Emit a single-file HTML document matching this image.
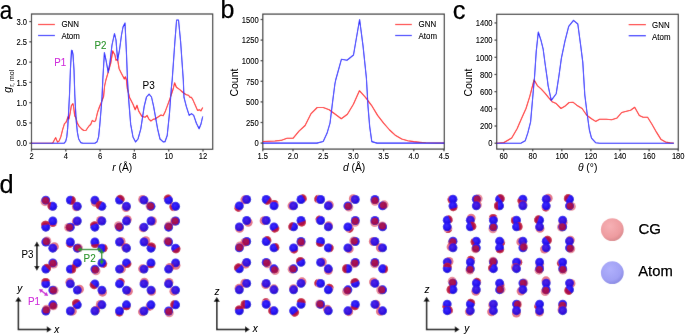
<!DOCTYPE html>
<html><head><meta charset="utf-8"><style>
html,body{margin:0;padding:0;background:#fff;}
svg{display:block;will-change:transform;} #w{width:685px;height:334px;overflow:hidden;}
text{font-family:"Liberation Sans", sans-serif;}
</style></head><body><div id="w">
<svg width="685" height="334" viewBox="0 0 685 334" font-family='"Liberation Sans", sans-serif'>
<defs><filter id="bl" x="0" y="0" width="685" height="334" filterUnits="userSpaceOnUse"><feConvolveMatrix order="3" kernelMatrix="0.01 0.05 0.01 0.05 0.76 0.05 0.01 0.05 0.01" edgeMode="duplicate" preserveAlpha="true"/></filter></defs>
<g filter="url(#bl)"><rect width="685" height="334" fill="#fff"/>
<rect x="31.5" y="14.0" width="181.2" height="135.3" fill="none" stroke="#333" stroke-width="1.2"/>
<line x1="31.5" y1="149.3" x2="31.5" y2="151.5" stroke="#333" stroke-width="1.2"/>

<line x1="65.8" y1="149.3" x2="65.8" y2="151.5" stroke="#333" stroke-width="1.2"/>

<line x1="100.1" y1="149.3" x2="100.1" y2="151.5" stroke="#333" stroke-width="1.2"/>

<line x1="134.39999999999998" y1="149.3" x2="134.39999999999998" y2="151.5" stroke="#333" stroke-width="1.2"/>

<line x1="168.7" y1="149.3" x2="168.7" y2="151.5" stroke="#333" stroke-width="1.2"/>

<line x1="203.0" y1="149.3" x2="203.0" y2="151.5" stroke="#333" stroke-width="1.2"/>

<line x1="29.3" y1="143.2" x2="31.5" y2="143.2" stroke="#333" stroke-width="1.2"/>

<line x1="29.3" y1="122.92499999999998" x2="31.5" y2="122.92499999999998" stroke="#333" stroke-width="1.2"/>

<line x1="29.3" y1="102.64999999999999" x2="31.5" y2="102.64999999999999" stroke="#333" stroke-width="1.2"/>

<line x1="29.3" y1="82.375" x2="31.5" y2="82.375" stroke="#333" stroke-width="1.2"/>

<line x1="29.3" y1="62.099999999999994" x2="31.5" y2="62.099999999999994" stroke="#333" stroke-width="1.2"/>

<line x1="29.3" y1="41.82499999999999" x2="31.5" y2="41.82499999999999" stroke="#333" stroke-width="1.2"/>

<line x1="29.3" y1="21.549999999999997" x2="31.5" y2="21.549999999999997" stroke="#333" stroke-width="1.2"/>

<polyline points="31.5,143.2 52.0,143.2 53.0,142.6 55.7,137.6 57.5,142.1 59.0,141.1 60.8,136.9 62.7,129.4 64.5,123.7 65.7,122.7 66.8,120.4 68.0,116.7 69.0,118.9 70.2,113.0 71.4,105.5 72.9,103.7 73.6,107.0 74.7,115.9 75.7,117.4 77.2,122.7 79.2,126.4 81.4,128.7 83.7,130.5 85.9,130.5 87.4,128.2 89.2,125.7 90.7,124.5 92.3,120.4 94.1,121.6 95.6,120.7 97.6,112.2 99.4,107.0 101.6,101.7 103.6,96.5 104.6,86.0 105.9,80.0 108.6,70.8 110.7,63.4 112.8,50.9 114.9,55.0 116.0,60.3 117.6,59.3 119.1,68.7 121.2,72.9 123.3,77.0 124.3,79.0 125.4,76.7 126.4,80.0 127.3,88.5 129.6,97.4 133.0,104.2 135.2,109.8 137.0,105.3 138.6,110.9 141.9,116.5 145.3,117.2 147.1,115.4 148.7,118.8 150.9,121.0 153.1,119.4 155.4,118.8 158.8,116.5 161.0,115.0 163.2,115.8 165.5,110.9 168.8,101.9 171.1,95.2 173.3,88.5 174.6,82.8 176.4,87.3 179.8,89.6 182.9,92.5 186.3,94.7 188.5,95.2 190.1,97.4 191.5,97.4 193.0,100.1 195.3,105.3 197.5,110.4 199.8,109.8 200.9,110.9 202.7,107.5" fill="none" stroke="#ff0808" stroke-width="1.1" stroke-linejoin="round"/>
<polyline points="31.5,143.2 64.2,143.2 65.7,141.4 66.8,136.9 67.7,127.9 68.4,115.9 69.1,102.5 69.5,95.0 70.4,70.0 71.5,50.2 72.2,50.5 73.0,54.3 74.0,70.0 74.8,95.0 75.4,107.0 76.3,121.9 77.4,132.4 78.7,139.1 80.7,142.6 82.9,143.2 94.9,143.2 97.1,141.7 98.6,136.9 99.8,124.9 100.9,111.5 101.9,99.5 102.8,80.0 104.4,52.5 106.0,60.0 108.2,72.5 110.0,62.0 112.0,45.0 114.5,33.5 116.0,40.0 117.6,60.3 119.5,50.0 121.5,35.0 123.0,27.0 125.0,23.0 126.4,51.9 127.5,80.0 128.5,97.4 130.7,124.4 133.0,137.0 135.6,141.9 138.0,139.0 140.8,128.8 144.2,106.4 146.5,97.0 149.1,94.1 151.5,97.0 153.6,106.4 157.6,128.8 160.0,139.0 163.2,141.9 165.0,141.8 167.2,135.5 169.5,113.1 171.3,88.5 172.2,80.0 174.9,41.5 176.6,20.0 178.5,20.0 180.6,41.5 183.3,80.0 184.0,97.4 186.3,106.4 189.2,115.4 191.5,113.6 193.7,115.4 196.4,123.2 199.1,128.8 200.9,124.3 202.7,116.5" fill="none" stroke="#0808ff" stroke-width="1.1" stroke-linejoin="round"/>
<line x1="38.0" y1="24.5" x2="54.9" y2="24.5" stroke="#ff1a1a" stroke-width="1.2"/>
<line x1="38.0" y1="35.5" x2="54.9" y2="35.5" stroke="#1a1aff" stroke-width="1.2"/>







<rect x="262.8" y="14.1" width="181.5" height="135.0" fill="none" stroke="#333" stroke-width="1.2"/>
<line x1="262.8" y1="149.1" x2="262.8" y2="151.29999999999998" stroke="#333" stroke-width="1.2"/>

<line x1="293.0" y1="149.1" x2="293.0" y2="151.29999999999998" stroke="#333" stroke-width="1.2"/>

<line x1="323.2" y1="149.1" x2="323.2" y2="151.29999999999998" stroke="#333" stroke-width="1.2"/>

<line x1="353.4" y1="149.1" x2="353.4" y2="151.29999999999998" stroke="#333" stroke-width="1.2"/>

<line x1="383.6" y1="149.1" x2="383.6" y2="151.29999999999998" stroke="#333" stroke-width="1.2"/>

<line x1="413.8" y1="149.1" x2="413.8" y2="151.29999999999998" stroke="#333" stroke-width="1.2"/>

<line x1="444.0" y1="149.1" x2="444.0" y2="151.29999999999998" stroke="#333" stroke-width="1.2"/>

<line x1="260.6" y1="143.1" x2="262.8" y2="143.1" stroke="#333" stroke-width="1.2"/>

<line x1="260.6" y1="122.5" x2="262.8" y2="122.5" stroke="#333" stroke-width="1.2"/>

<line x1="260.6" y1="101.89999999999999" x2="262.8" y2="101.89999999999999" stroke="#333" stroke-width="1.2"/>

<line x1="260.6" y1="81.29999999999998" x2="262.8" y2="81.29999999999998" stroke="#333" stroke-width="1.2"/>

<line x1="260.6" y1="60.69999999999999" x2="262.8" y2="60.69999999999999" stroke="#333" stroke-width="1.2"/>

<line x1="260.6" y1="40.099999999999994" x2="262.8" y2="40.099999999999994" stroke="#333" stroke-width="1.2"/>

<line x1="260.6" y1="19.499999999999986" x2="262.8" y2="19.499999999999986" stroke="#333" stroke-width="1.2"/>

<polyline points="262.8,141.5 268.8,141.2 274.9,141.0 280.9,140.4 287.0,138.3 293.0,138.3 299.0,131.1 305.1,125.5 311.1,113.6 317.2,107.5 323.2,107.5 329.2,109.8 335.3,114.3 341.3,118.8 347.4,114.3 353.4,104.2 359.4,90.7 365.5,97.4 371.5,105.3 377.6,115.4 383.6,123.2 389.6,130.0 395.7,135.6 401.7,139.0 407.8,140.7 413.8,141.6 419.8,142.2 425.9,142.7 431.9,143.0 438.0,143.1 444.0,143.1" fill="none" stroke="#ff0808" stroke-width="1.1" stroke-linejoin="round"/>
<polyline points="262.8,143.1 316.9,143.1 323.2,141.5 327.0,133.3 330.0,123.2 332.6,101.9 334.9,84.0 335.7,80.0 341.4,59.3 347.0,60.3 353.5,55.0 359.6,19.5 363.0,45.6 366.4,78.0 368.0,106.4 369.7,126.6 371.8,141.6 377.0,143.1 444.3,143.1" fill="none" stroke="#0808ff" stroke-width="1.1" stroke-linejoin="round"/>
<line x1="395.2" y1="24.5" x2="411.8" y2="24.5" stroke="#ff1a1a" stroke-width="1.2"/>
<line x1="395.2" y1="35.5" x2="411.8" y2="35.5" stroke="#1a1aff" stroke-width="1.2"/>




<rect x="496.7" y="14.3" width="181.59999999999997" height="134.79999999999998" fill="none" stroke="#333" stroke-width="1.2"/>
<line x1="503.6" y1="149.1" x2="503.6" y2="151.29999999999998" stroke="#333" stroke-width="1.2"/>

<line x1="532.7" y1="149.1" x2="532.7" y2="151.29999999999998" stroke="#333" stroke-width="1.2"/>

<line x1="561.8000000000001" y1="149.1" x2="561.8000000000001" y2="151.29999999999998" stroke="#333" stroke-width="1.2"/>

<line x1="590.9000000000001" y1="149.1" x2="590.9000000000001" y2="151.29999999999998" stroke="#333" stroke-width="1.2"/>

<line x1="620.0" y1="149.1" x2="620.0" y2="151.29999999999998" stroke="#333" stroke-width="1.2"/>

<line x1="649.1" y1="149.1" x2="649.1" y2="151.29999999999998" stroke="#333" stroke-width="1.2"/>

<line x1="678.2" y1="149.1" x2="678.2" y2="151.29999999999998" stroke="#333" stroke-width="1.2"/>

<line x1="494.5" y1="143.2" x2="496.7" y2="143.2" stroke="#333" stroke-width="1.2"/>

<line x1="494.5" y1="126.01999999999998" x2="496.7" y2="126.01999999999998" stroke="#333" stroke-width="1.2"/>

<line x1="494.5" y1="108.83999999999999" x2="496.7" y2="108.83999999999999" stroke="#333" stroke-width="1.2"/>

<line x1="494.5" y1="91.66" x2="496.7" y2="91.66" stroke="#333" stroke-width="1.2"/>

<line x1="494.5" y1="74.47999999999999" x2="496.7" y2="74.47999999999999" stroke="#333" stroke-width="1.2"/>

<line x1="494.5" y1="57.29999999999998" x2="496.7" y2="57.29999999999998" stroke="#333" stroke-width="1.2"/>

<line x1="494.5" y1="40.11999999999999" x2="496.7" y2="40.11999999999999" stroke="#333" stroke-width="1.2"/>

<line x1="494.5" y1="22.939999999999984" x2="496.7" y2="22.939999999999984" stroke="#333" stroke-width="1.2"/>

<polyline points="496.7,143.3 503.9,142.5 511.7,138.1 517.1,128.7 521.2,119.2 526.0,108.5 529.8,96.3 534.1,79.7 537.3,85.6 541.3,89.1 545.4,93.7 548.6,97.7 552.1,101.7 556.2,103.6 561.0,108.5 564.8,106.3 569.1,102.5 573.2,102.3 576.7,105.2 582.1,108.5 586.7,115.2 591.5,118.7 595.6,121.4 599.6,119.2 606.3,119.2 611.7,119.8 617.1,117.9 621.7,112.5 626.5,111.2 630.6,110.3 634.7,107.3 639.3,115.5 643.1,117.3 647.6,117.3 652.1,124.5 656.6,132.4 661.1,139.6 665.6,142.0 670.1,142.9 674.0,143.2" fill="none" stroke="#ff0808" stroke-width="1.1" stroke-linejoin="round"/>
<polyline points="496.7,143.3 521.2,143.1 525.2,140.8 527.9,132.7 530.6,121.9 532.7,97.7 534.6,76.2 536.2,51.9 538.3,32.0 541.0,40.4 543.1,48.8 545.2,64.5 547.3,79.2 548.1,85.6 551.3,100.4 556.2,93.7 558.9,76.2 561.4,58.2 564.9,41.4 568.7,26.3 573.5,20.3 577.8,24.0 580.7,45.6 582.8,62.4 584.8,95.0 587.5,116.5 589.4,130.0 591.5,138.1 595.6,142.7 599.6,143.3 674.0,143.3" fill="none" stroke="#0808ff" stroke-width="1.1" stroke-linejoin="round"/>
<line x1="628.7" y1="24.6" x2="645.9" y2="24.6" stroke="#ff1a1a" stroke-width="1.2"/>
<line x1="628.7" y1="35.7" x2="645.9" y2="35.7" stroke="#1a1aff" stroke-width="1.2"/>




<defs><radialGradient id="gb" cx="0.42" cy="0.38" r="0.62"><stop offset="0" stop-color="#3a28ff"/><stop offset="0.7" stop-color="#2410ec"/><stop offset="1" stop-color="#1a0ad0"/></radialGradient><radialGradient id="gr" cx="0.45" cy="0.42" r="0.58"><stop offset="0" stop-color="#d41830"/><stop offset="0.85" stop-color="#bc1034"/><stop offset="1" stop-color="#c42040"/></radialGradient><radialGradient id="lgr" cx="0.4" cy="0.35" r="0.65"><stop offset="0" stop-color="#f6b0b4"/><stop offset="0.75" stop-color="#ee9ca0"/><stop offset="1" stop-color="#dc8c90"/></radialGradient><radialGradient id="lgb" cx="0.4" cy="0.35" r="0.65"><stop offset="0" stop-color="#b0b0fc"/><stop offset="0.75" stop-color="#a0a0f4"/><stop offset="1" stop-color="#8c8ce4"/></radialGradient></defs>
<defs><filter id="bl2" x="0" y="0" width="685" height="334" filterUnits="userSpaceOnUse"><feConvolveMatrix order="3" kernelMatrix="0.02 0.08 0.02 0.08 0.6 0.08 0.02 0.08 0.02" edgeMode="none" preserveAlpha="false"/></filter></defs><g><circle cx="45.0" cy="201.7" r="4.45" fill="#d8304a" fill-opacity="0.55"/>
<circle cx="45.8" cy="200.1" r="4.45" fill="url(#gb)"/>
<circle cx="45.6" cy="200.5" r="3.56" fill="#b81036" fill-opacity="0.85"/>
<circle cx="52.0" cy="206.1" r="4.45" fill="#d8304a" fill-opacity="0.55"/>
<circle cx="52.8" cy="206.3" r="4.45" fill="url(#gb)"/>
<path d="M51.34,201.70 A4.45,4.45 0 0 0 49.48,209.81 Z" fill="#c01034" fill-opacity="0.85"/>
<circle cx="71.2" cy="200.3" r="4.45" fill="#d8304a" fill-opacity="0.55"/>
<circle cx="70.3" cy="200.1" r="4.45" fill="url(#gb)"/>
<path d="M70.45,204.69 A4.45,4.45 0 0 0 72.52,196.05 Z" fill="#c01034" fill-opacity="0.85"/>
<circle cx="76.3" cy="206.8" r="4.45" fill="#d8304a" fill-opacity="0.6"/>
<circle cx="77.3" cy="206.3" r="4.45" fill="url(#gb)"/>
<circle cx="76.3" cy="206.8" r="4.45" fill="#d01838" fill-opacity="0.1"/>
<circle cx="95.3" cy="202.4" r="4.45" fill="#d8304a" fill-opacity="0.6"/>
<circle cx="94.9" cy="200.1" r="4.45" fill="url(#gb)"/>
<circle cx="95.3" cy="202.4" r="4.45" fill="#d01838" fill-opacity="0.1"/>
<circle cx="100.2" cy="205.4" r="4.45" fill="#d8304a" fill-opacity="0.55"/>
<circle cx="101.9" cy="206.3" r="4.45" fill="url(#gb)"/>
<path d="M102.10,201.38 A4.45,4.45 0 0 0 97.96,209.25 Z" fill="#c01034" fill-opacity="0.85"/>
<circle cx="120.1" cy="199.3" r="4.45" fill="#d8304a" fill-opacity="0.55"/>
<circle cx="119.5" cy="200.1" r="4.45" fill="url(#gb)"/>
<path d="M123.74,201.85 A4.45,4.45 0 0 0 116.85,196.27 Z" fill="#c01034" fill-opacity="0.85"/>
<circle cx="126.0" cy="207.5" r="4.45" fill="#d8304a" fill-opacity="0.6"/>
<circle cx="126.5" cy="206.3" r="4.45" fill="url(#gb)"/>
<circle cx="126.0" cy="207.5" r="4.45" fill="#d01838" fill-opacity="0.1"/>
<circle cx="142.7" cy="199.4" r="4.45" fill="#d8304a" fill-opacity="0.6"/>
<circle cx="144.0" cy="200.1" r="4.45" fill="url(#gb)"/>
<circle cx="142.7" cy="199.4" r="4.45" fill="#d01838" fill-opacity="0.1"/>
<circle cx="150.0" cy="206.0" r="4.45" fill="#d8304a" fill-opacity="0.55"/>
<circle cx="151.0" cy="206.3" r="4.45" fill="url(#gb)"/>
<circle cx="150.5" cy="206.1" r="3.56" fill="#b81036" fill-opacity="0.85"/>
<circle cx="168.1" cy="199.0" r="4.45" fill="#d8304a" fill-opacity="0.55"/>
<circle cx="168.6" cy="200.1" r="4.45" fill="url(#gb)"/>
<path d="M170.96,195.66 A4.45,4.45 0 0 0 163.60,199.10 Z" fill="#c01034" fill-opacity="0.85"/>
<circle cx="173.9" cy="206.8" r="4.45" fill="#d8304a" fill-opacity="0.55"/>
<circle cx="175.6" cy="206.3" r="4.45" fill="url(#gb)"/>
<path d="M170.66,203.73 A4.45,4.45 0 0 0 172.91,211.15 Z" fill="#c01034" fill-opacity="0.85"/>
<circle cx="52.9" cy="222.5" r="4.45" fill="#d8304a" fill-opacity="0.55"/>
<circle cx="52.8" cy="221.0" r="4.45" fill="url(#gb)"/>
<path d="M49.44,225.32 A4.45,4.45 0 0 0 56.47,225.06 Z" fill="#c01034" fill-opacity="0.85"/>
<circle cx="45.5" cy="225.3" r="4.45" fill="#d8304a" fill-opacity="0.55"/>
<circle cx="45.8" cy="227.2" r="4.45" fill="url(#gb)"/>
<path d="M49.90,224.34 A4.45,4.45 0 0 0 41.10,225.49 Z" fill="#c01034" fill-opacity="0.85"/>
<circle cx="76.3" cy="221.6" r="4.45" fill="#d8304a" fill-opacity="0.6"/>
<circle cx="77.3" cy="221.0" r="4.45" fill="url(#gb)"/>
<circle cx="76.3" cy="221.6" r="4.45" fill="#d01838" fill-opacity="0.1"/>
<circle cx="68.6" cy="227.4" r="4.45" fill="#d8304a" fill-opacity="0.55"/>
<circle cx="70.3" cy="227.2" r="4.45" fill="url(#gb)"/>
<circle cx="69.3" cy="227.3" r="3.56" fill="#b81036" fill-opacity="0.85"/>
<circle cx="100.6" cy="220.4" r="4.45" fill="#d8304a" fill-opacity="0.6"/>
<circle cx="101.9" cy="221.0" r="4.45" fill="url(#gb)"/>
<circle cx="100.6" cy="220.4" r="4.45" fill="#d01838" fill-opacity="0.1"/>
<circle cx="94.4" cy="225.8" r="4.45" fill="#d8304a" fill-opacity="0.55"/>
<circle cx="94.9" cy="227.2" r="4.45" fill="url(#gb)"/>
<path d="M97.89,223.07 A4.45,4.45 0 0 0 89.95,225.91 Z" fill="#c01034" fill-opacity="0.85"/>
<circle cx="127.3" cy="219.6" r="4.45" fill="#d8304a" fill-opacity="0.6"/>
<circle cx="126.5" cy="221.0" r="4.45" fill="url(#gb)"/>
<circle cx="127.3" cy="219.6" r="4.45" fill="#d01838" fill-opacity="0.1"/>
<circle cx="118.5" cy="225.7" r="4.45" fill="#d8304a" fill-opacity="0.55"/>
<circle cx="119.5" cy="227.2" r="4.45" fill="url(#gb)"/>
<circle cx="119.0" cy="226.5" r="3.56" fill="#b81036" fill-opacity="0.85"/>
<circle cx="152.4" cy="221.0" r="4.45" fill="#d8304a" fill-opacity="0.6"/>
<circle cx="151.0" cy="221.0" r="4.45" fill="url(#gb)"/>
<circle cx="152.4" cy="221.0" r="4.45" fill="#d01838" fill-opacity="0.1"/>
<circle cx="143.2" cy="227.9" r="4.45" fill="#d8304a" fill-opacity="0.6"/>
<circle cx="144.0" cy="227.2" r="4.45" fill="url(#gb)"/>
<circle cx="143.2" cy="227.9" r="4.45" fill="#d01838" fill-opacity="0.1"/>
<circle cx="174.4" cy="221.3" r="4.45" fill="#d8304a" fill-opacity="0.55"/>
<circle cx="175.6" cy="221.0" r="4.45" fill="url(#gb)"/>
<circle cx="175.1" cy="221.1" r="3.56" fill="#b81036" fill-opacity="0.85"/>
<circle cx="168.7" cy="226.0" r="4.45" fill="#d8304a" fill-opacity="0.55"/>
<circle cx="168.6" cy="227.2" r="4.45" fill="url(#gb)"/>
<circle cx="168.6" cy="226.5" r="3.56" fill="#b81036" fill-opacity="0.85"/>
<circle cx="46.9" cy="240.9" r="4.45" fill="#d8304a" fill-opacity="0.55"/>
<circle cx="45.8" cy="242.0" r="4.45" fill="url(#gb)"/>
<circle cx="46.4" cy="241.4" r="3.56" fill="#b81036" fill-opacity="0.85"/>
<circle cx="54.4" cy="246.7" r="4.45" fill="#d8304a" fill-opacity="0.6"/>
<circle cx="52.8" cy="248.2" r="4.45" fill="url(#gb)"/>
<circle cx="54.4" cy="246.7" r="4.45" fill="#d01838" fill-opacity="0.1"/>
<circle cx="70.1" cy="243.2" r="4.45" fill="#d8304a" fill-opacity="0.55"/>
<circle cx="70.3" cy="242.0" r="4.45" fill="url(#gb)"/>
<path d="M66.20,245.28 A4.45,4.45 0 0 0 73.08,246.52 Z" fill="#c01034" fill-opacity="0.85"/>
<circle cx="78.5" cy="247.9" r="4.45" fill="#d8304a" fill-opacity="0.55"/>
<circle cx="77.3" cy="248.2" r="4.45" fill="url(#gb)"/>
<circle cx="77.9" cy="248.0" r="3.56" fill="#b81036" fill-opacity="0.85"/>
<circle cx="95.1" cy="243.5" r="4.45" fill="#d8304a" fill-opacity="0.55"/>
<circle cx="94.9" cy="242.0" r="4.45" fill="url(#gb)"/>
<path d="M90.79,244.75 A4.45,4.45 0 0 0 99.49,243.84 Z" fill="#c01034" fill-opacity="0.85"/>
<circle cx="103.1" cy="248.2" r="4.45" fill="#d8304a" fill-opacity="0.55"/>
<circle cx="101.9" cy="248.2" r="4.45" fill="url(#gb)"/>
<path d="M104.80,252.34 A4.45,4.45 0 0 0 105.01,244.17 Z" fill="#c01034" fill-opacity="0.85"/>
<circle cx="121.1" cy="241.5" r="4.45" fill="#d8304a" fill-opacity="0.6"/>
<circle cx="119.5" cy="242.0" r="4.45" fill="url(#gb)"/>
<circle cx="121.1" cy="241.5" r="4.45" fill="#d01838" fill-opacity="0.1"/>
<circle cx="125.7" cy="247.5" r="4.45" fill="#d8304a" fill-opacity="0.6"/>
<circle cx="126.5" cy="248.2" r="4.45" fill="url(#gb)"/>
<circle cx="125.7" cy="247.5" r="4.45" fill="#d01838" fill-opacity="0.1"/>
<circle cx="145.8" cy="240.7" r="4.45" fill="#d8304a" fill-opacity="0.6"/>
<circle cx="144.0" cy="242.0" r="4.45" fill="url(#gb)"/>
<circle cx="145.8" cy="240.7" r="4.45" fill="#d01838" fill-opacity="0.1"/>
<circle cx="151.4" cy="247.0" r="4.45" fill="#d8304a" fill-opacity="0.55"/>
<circle cx="151.0" cy="248.2" r="4.45" fill="url(#gb)"/>
<path d="M155.71,247.97 A4.45,4.45 0 0 0 147.24,245.34 Z" fill="#c01034" fill-opacity="0.85"/>
<circle cx="167.8" cy="241.2" r="4.45" fill="#d8304a" fill-opacity="0.55"/>
<circle cx="168.6" cy="242.0" r="4.45" fill="url(#gb)"/>
<circle cx="168.2" cy="241.6" r="3.56" fill="#b81036" fill-opacity="0.85"/>
<circle cx="176.0" cy="248.9" r="4.45" fill="#d8304a" fill-opacity="0.55"/>
<circle cx="175.6" cy="248.2" r="4.45" fill="url(#gb)"/>
<path d="M172.21,251.25 A4.45,4.45 0 0 0 179.79,246.59 Z" fill="#c01034" fill-opacity="0.85"/>
<circle cx="53.6" cy="264.1" r="4.45" fill="#d8304a" fill-opacity="0.55"/>
<circle cx="52.8" cy="262.9" r="4.45" fill="url(#gb)"/>
<circle cx="53.0" cy="263.3" r="3.56" fill="#b81036" fill-opacity="0.85"/>
<circle cx="46.5" cy="268.4" r="4.45" fill="#d8304a" fill-opacity="0.55"/>
<circle cx="45.8" cy="269.1" r="4.45" fill="url(#gb)"/>
<path d="M50.15,270.95 A4.45,4.45 0 0 0 43.93,264.78 Z" fill="#c01034" fill-opacity="0.85"/>
<circle cx="76.8" cy="263.7" r="4.45" fill="#d8304a" fill-opacity="0.55"/>
<circle cx="77.3" cy="262.9" r="4.45" fill="url(#gb)"/>
<path d="M72.36,263.80 A4.45,4.45 0 0 0 78.22,267.92 Z" fill="#c01034" fill-opacity="0.85"/>
<circle cx="71.7" cy="269.1" r="4.45" fill="#d8304a" fill-opacity="0.55"/>
<circle cx="70.3" cy="269.1" r="4.45" fill="url(#gb)"/>
<path d="M72.19,273.49 A4.45,4.45 0 0 0 71.80,264.61 Z" fill="#c01034" fill-opacity="0.85"/>
<circle cx="102.8" cy="263.6" r="4.45" fill="#d8304a" fill-opacity="0.55"/>
<circle cx="101.9" cy="262.9" r="4.45" fill="url(#gb)"/>
<path d="M102.69,268.04 A4.45,4.45 0 0 0 107.03,262.23 Z" fill="#c01034" fill-opacity="0.85"/>
<circle cx="96.0" cy="270.9" r="4.45" fill="#d8304a" fill-opacity="0.55"/>
<circle cx="94.9" cy="269.1" r="4.45" fill="url(#gb)"/>
<circle cx="95.3" cy="269.8" r="3.56" fill="#b81036" fill-opacity="0.85"/>
<circle cx="127.0" cy="263.6" r="4.45" fill="#d8304a" fill-opacity="0.55"/>
<circle cx="126.5" cy="262.9" r="4.45" fill="url(#gb)"/>
<path d="M124.66,267.39 A4.45,4.45 0 0 0 131.24,262.39 Z" fill="#c01034" fill-opacity="0.85"/>
<circle cx="121.4" cy="268.9" r="4.45" fill="#d8304a" fill-opacity="0.6"/>
<circle cx="119.5" cy="269.1" r="4.45" fill="url(#gb)"/>
<circle cx="121.4" cy="268.9" r="4.45" fill="#d01838" fill-opacity="0.1"/>
<circle cx="150.9" cy="263.9" r="4.45" fill="#d8304a" fill-opacity="0.55"/>
<circle cx="151.0" cy="262.9" r="4.45" fill="url(#gb)"/>
<path d="M147.03,266.06 A4.45,4.45 0 0 0 154.50,266.58 Z" fill="#c01034" fill-opacity="0.85"/>
<circle cx="142.6" cy="268.8" r="4.45" fill="#d8304a" fill-opacity="0.6"/>
<circle cx="144.0" cy="269.1" r="4.45" fill="url(#gb)"/>
<circle cx="142.6" cy="268.8" r="4.45" fill="#d01838" fill-opacity="0.1"/>
<circle cx="176.0" cy="265.3" r="4.45" fill="#d8304a" fill-opacity="0.6"/>
<circle cx="175.6" cy="262.9" r="4.45" fill="url(#gb)"/>
<circle cx="176.0" cy="265.3" r="4.45" fill="#d01838" fill-opacity="0.1"/>
<circle cx="169.8" cy="267.4" r="4.45" fill="#d8304a" fill-opacity="0.6"/>
<circle cx="168.6" cy="269.1" r="4.45" fill="url(#gb)"/>
<circle cx="169.8" cy="267.4" r="4.45" fill="#d01838" fill-opacity="0.1"/>
<circle cx="45.7" cy="282.4" r="4.45" fill="#d8304a" fill-opacity="0.55"/>
<circle cx="45.8" cy="283.9" r="4.45" fill="url(#gb)"/>
<path d="M49.94,281.06 A4.45,4.45 0 0 0 41.34,281.61 Z" fill="#c01034" fill-opacity="0.85"/>
<circle cx="54.1" cy="290.3" r="4.45" fill="#d8304a" fill-opacity="0.55"/>
<circle cx="52.8" cy="290.1" r="4.45" fill="url(#gb)"/>
<circle cx="53.4" cy="290.2" r="3.56" fill="#b81036" fill-opacity="0.85"/>
<circle cx="69.8" cy="282.3" r="4.45" fill="#d8304a" fill-opacity="0.6"/>
<circle cx="70.3" cy="283.9" r="4.45" fill="url(#gb)"/>
<circle cx="69.8" cy="282.3" r="4.45" fill="#d01838" fill-opacity="0.1"/>
<circle cx="79.5" cy="289.2" r="4.45" fill="#d8304a" fill-opacity="0.6"/>
<circle cx="77.3" cy="290.1" r="4.45" fill="url(#gb)"/>
<circle cx="79.5" cy="289.2" r="4.45" fill="#d01838" fill-opacity="0.1"/>
<circle cx="94.2" cy="284.7" r="4.45" fill="#d8304a" fill-opacity="0.55"/>
<circle cx="94.9" cy="283.9" r="4.45" fill="url(#gb)"/>
<path d="M90.48,282.22 A4.45,4.45 0 0 0 97.10,288.03 Z" fill="#c01034" fill-opacity="0.85"/>
<circle cx="102.5" cy="292.2" r="4.45" fill="#d8304a" fill-opacity="0.6"/>
<circle cx="101.9" cy="290.1" r="4.45" fill="url(#gb)"/>
<circle cx="102.5" cy="292.2" r="4.45" fill="#d01838" fill-opacity="0.1"/>
<circle cx="120.3" cy="282.5" r="4.45" fill="#d8304a" fill-opacity="0.55"/>
<circle cx="119.5" cy="283.9" r="4.45" fill="url(#gb)"/>
<path d="M124.75,282.41 A4.45,4.45 0 0 0 118.53,278.44 Z" fill="#c01034" fill-opacity="0.85"/>
<circle cx="128.4" cy="291.2" r="4.45" fill="#d8304a" fill-opacity="0.6"/>
<circle cx="126.5" cy="290.1" r="4.45" fill="url(#gb)"/>
<circle cx="128.4" cy="291.2" r="4.45" fill="#d01838" fill-opacity="0.1"/>
<circle cx="144.3" cy="282.2" r="4.45" fill="#d8304a" fill-opacity="0.6"/>
<circle cx="144.0" cy="283.9" r="4.45" fill="url(#gb)"/>
<circle cx="144.3" cy="282.2" r="4.45" fill="#d01838" fill-opacity="0.1"/>
<circle cx="151.6" cy="291.4" r="4.45" fill="#d8304a" fill-opacity="0.6"/>
<circle cx="151.0" cy="290.1" r="4.45" fill="url(#gb)"/>
<circle cx="151.6" cy="291.4" r="4.45" fill="#d01838" fill-opacity="0.1"/>
<circle cx="169.0" cy="282.4" r="4.45" fill="#d8304a" fill-opacity="0.6"/>
<circle cx="168.6" cy="283.9" r="4.45" fill="url(#gb)"/>
<circle cx="169.0" cy="282.4" r="4.45" fill="#d01838" fill-opacity="0.1"/>
<circle cx="173.9" cy="291.2" r="4.45" fill="#d8304a" fill-opacity="0.6"/>
<circle cx="175.6" cy="290.1" r="4.45" fill="url(#gb)"/>
<circle cx="173.9" cy="291.2" r="4.45" fill="#d01838" fill-opacity="0.1"/>
<circle cx="53.4" cy="305.8" r="4.45" fill="#d8304a" fill-opacity="0.55"/>
<circle cx="52.8" cy="304.8" r="4.45" fill="url(#gb)"/>
<circle cx="53.3" cy="305.8" r="3.56" fill="#b81036" fill-opacity="0.85"/>
<circle cx="46.5" cy="309.1" r="4.45" fill="#d8304a" fill-opacity="0.55"/>
<circle cx="45.8" cy="311.0" r="4.45" fill="url(#gb)"/>
<circle cx="46.2" cy="309.9" r="3.56" fill="#b81036" fill-opacity="0.85"/>
<circle cx="76.5" cy="303.6" r="4.45" fill="#d8304a" fill-opacity="0.55"/>
<circle cx="77.3" cy="304.8" r="4.45" fill="url(#gb)"/>
<path d="M80.02,300.80 A4.45,4.45 0 0 0 72.62,305.68 Z" fill="#c01034" fill-opacity="0.85"/>
<circle cx="72.3" cy="311.2" r="4.45" fill="#d8304a" fill-opacity="0.6"/>
<circle cx="70.3" cy="311.0" r="4.45" fill="url(#gb)"/>
<circle cx="72.3" cy="311.2" r="4.45" fill="#d01838" fill-opacity="0.1"/>
<circle cx="100.3" cy="304.5" r="4.45" fill="#d8304a" fill-opacity="0.6"/>
<circle cx="101.9" cy="304.8" r="4.45" fill="url(#gb)"/>
<circle cx="100.3" cy="304.5" r="4.45" fill="#d01838" fill-opacity="0.1"/>
<circle cx="95.8" cy="310.1" r="4.45" fill="#d8304a" fill-opacity="0.6"/>
<circle cx="94.9" cy="311.0" r="4.45" fill="url(#gb)"/>
<circle cx="95.8" cy="310.1" r="4.45" fill="#d01838" fill-opacity="0.1"/>
<circle cx="126.4" cy="305.9" r="4.45" fill="#d8304a" fill-opacity="0.55"/>
<circle cx="126.5" cy="304.8" r="4.45" fill="url(#gb)"/>
<path d="M122.36,307.67 A4.45,4.45 0 0 0 130.47,307.76 Z" fill="#c01034" fill-opacity="0.85"/>
<circle cx="119.4" cy="312.0" r="4.45" fill="#d8304a" fill-opacity="0.55"/>
<circle cx="119.5" cy="311.0" r="4.45" fill="url(#gb)"/>
<path d="M115.80,314.58 A4.45,4.45 0 0 0 122.65,314.99 Z" fill="#c01034" fill-opacity="0.85"/>
<circle cx="150.1" cy="306.0" r="4.45" fill="#d8304a" fill-opacity="0.55"/>
<circle cx="151.0" cy="304.8" r="4.45" fill="url(#gb)"/>
<path d="M145.64,306.14 A4.45,4.45 0 0 0 151.12,310.32 Z" fill="#c01034" fill-opacity="0.85"/>
<circle cx="142.5" cy="311.8" r="4.45" fill="#d8304a" fill-opacity="0.6"/>
<circle cx="144.0" cy="311.0" r="4.45" fill="url(#gb)"/>
<circle cx="142.5" cy="311.8" r="4.45" fill="#d01838" fill-opacity="0.1"/>
<circle cx="174.7" cy="304.6" r="4.45" fill="#d8304a" fill-opacity="0.55"/>
<circle cx="175.6" cy="304.8" r="4.45" fill="url(#gb)"/>
<path d="M174.24,300.22 A4.45,4.45 0 0 0 172.56,308.51 Z" fill="#c01034" fill-opacity="0.85"/>
<circle cx="169.3" cy="312.8" r="4.45" fill="#d8304a" fill-opacity="0.55"/>
<circle cx="168.6" cy="311.0" r="4.45" fill="url(#gb)"/>
<circle cx="168.8" cy="311.5" r="3.56" fill="#b81036" fill-opacity="0.85"/>
<circle cx="244.9" cy="199.8" r="4.45" fill="#d8304a" fill-opacity="0.6"/>
<circle cx="246.7" cy="199.5" r="4.45" fill="url(#gb)"/>
<circle cx="244.9" cy="199.8" r="4.45" fill="#d01838" fill-opacity="0.1"/>
<circle cx="238.6" cy="207.2" r="4.45" fill="#d8304a" fill-opacity="0.55"/>
<circle cx="239.3" cy="205.9" r="4.45" fill="url(#gb)"/>
<path d="M234.20,207.66 A4.45,4.45 0 0 0 240.81,211.08 Z" fill="#c01034" fill-opacity="0.85"/>
<circle cx="267.1" cy="200.2" r="4.45" fill="#d8304a" fill-opacity="0.55"/>
<circle cx="266.2" cy="199.5" r="4.45" fill="url(#gb)"/>
<path d="M265.09,204.14 A4.45,4.45 0 0 0 270.49,197.28 Z" fill="#c01034" fill-opacity="0.85"/>
<circle cx="274.3" cy="204.4" r="4.45" fill="#d8304a" fill-opacity="0.55"/>
<circle cx="274.0" cy="205.9" r="4.45" fill="url(#gb)"/>
<path d="M278.32,202.62 A4.45,4.45 0 0 0 270.85,201.57 Z" fill="#c01034" fill-opacity="0.85"/>
<circle cx="302.3" cy="198.7" r="4.45" fill="#d8304a" fill-opacity="0.55"/>
<circle cx="301.0" cy="199.5" r="4.45" fill="url(#gb)"/>
<path d="M305.83,201.42 A4.45,4.45 0 0 0 301.48,194.33 Z" fill="#c01034" fill-opacity="0.85"/>
<circle cx="292.0" cy="205.8" r="4.45" fill="#d8304a" fill-opacity="0.6"/>
<circle cx="293.6" cy="205.9" r="4.45" fill="url(#gb)"/>
<circle cx="292.0" cy="205.8" r="4.45" fill="#d01838" fill-opacity="0.1"/>
<circle cx="318.7" cy="199.1" r="4.45" fill="#d8304a" fill-opacity="0.55"/>
<circle cx="320.6" cy="199.5" r="4.45" fill="url(#gb)"/>
<path d="M317.34,194.85 A4.45,4.45 0 0 0 315.73,202.44 Z" fill="#c01034" fill-opacity="0.85"/>
<circle cx="329.3" cy="204.9" r="4.45" fill="#d8304a" fill-opacity="0.6"/>
<circle cx="328.3" cy="205.9" r="4.45" fill="url(#gb)"/>
<circle cx="329.3" cy="204.9" r="4.45" fill="#d01838" fill-opacity="0.1"/>
<circle cx="353.3" cy="198.7" r="4.45" fill="#d8304a" fill-opacity="0.6"/>
<circle cx="355.3" cy="199.5" r="4.45" fill="url(#gb)"/>
<circle cx="353.3" cy="198.7" r="4.45" fill="#d01838" fill-opacity="0.1"/>
<circle cx="348.9" cy="207.1" r="4.45" fill="#d8304a" fill-opacity="0.55"/>
<circle cx="347.9" cy="205.9" r="4.45" fill="url(#gb)"/>
<circle cx="348.2" cy="206.2" r="3.56" fill="#b81036" fill-opacity="0.85"/>
<circle cx="375.0" cy="201.3" r="4.45" fill="#d8304a" fill-opacity="0.55"/>
<circle cx="374.9" cy="199.5" r="4.45" fill="url(#gb)"/>
<circle cx="374.9" cy="200.5" r="3.56" fill="#b81036" fill-opacity="0.85"/>
<circle cx="384.1" cy="204.8" r="4.45" fill="#d8304a" fill-opacity="0.55"/>
<circle cx="382.6" cy="205.9" r="4.45" fill="url(#gb)"/>
<circle cx="383.4" cy="205.3" r="3.56" fill="#b81036" fill-opacity="0.85"/>
<circle cx="248.2" cy="222.3" r="4.45" fill="#d8304a" fill-opacity="0.6"/>
<circle cx="246.7" cy="220.5" r="4.45" fill="url(#gb)"/>
<circle cx="248.2" cy="222.3" r="4.45" fill="#d01838" fill-opacity="0.1"/>
<circle cx="239.6" cy="228.4" r="4.45" fill="#d8304a" fill-opacity="0.6"/>
<circle cx="239.3" cy="226.9" r="4.45" fill="url(#gb)"/>
<circle cx="239.6" cy="228.4" r="4.45" fill="#d01838" fill-opacity="0.1"/>
<circle cx="264.1" cy="220.7" r="4.45" fill="#d8304a" fill-opacity="0.6"/>
<circle cx="266.2" cy="220.5" r="4.45" fill="url(#gb)"/>
<circle cx="264.1" cy="220.7" r="4.45" fill="#d01838" fill-opacity="0.1"/>
<circle cx="274.8" cy="228.1" r="4.45" fill="#d8304a" fill-opacity="0.55"/>
<circle cx="274.0" cy="226.9" r="4.45" fill="url(#gb)"/>
<path d="M271.69,231.26 A4.45,4.45 0 0 0 279.03,226.70 Z" fill="#c01034" fill-opacity="0.85"/>
<circle cx="301.6" cy="222.1" r="4.45" fill="#d8304a" fill-opacity="0.55"/>
<circle cx="301.0" cy="220.5" r="4.45" fill="url(#gb)"/>
<path d="M297.38,223.60 A4.45,4.45 0 0 0 305.77,220.62 Z" fill="#c01034" fill-opacity="0.85"/>
<circle cx="292.8" cy="226.6" r="4.45" fill="#d8304a" fill-opacity="0.55"/>
<circle cx="293.6" cy="226.9" r="4.45" fill="url(#gb)"/>
<path d="M293.29,222.18 A4.45,4.45 0 0 0 290.41,230.34 Z" fill="#c01034" fill-opacity="0.85"/>
<circle cx="319.9" cy="219.9" r="4.45" fill="#d8304a" fill-opacity="0.55"/>
<circle cx="320.6" cy="220.5" r="4.45" fill="url(#gb)"/>
<path d="M320.00,215.41 A4.45,4.45 0 0 0 315.48,220.00 Z" fill="#c01034" fill-opacity="0.85"/>
<circle cx="328.6" cy="225.8" r="4.45" fill="#d8304a" fill-opacity="0.6"/>
<circle cx="328.3" cy="226.9" r="4.45" fill="url(#gb)"/>
<circle cx="328.6" cy="225.8" r="4.45" fill="#d01838" fill-opacity="0.1"/>
<circle cx="355.1" cy="222.4" r="4.45" fill="#d8304a" fill-opacity="0.55"/>
<circle cx="355.3" cy="220.5" r="4.45" fill="url(#gb)"/>
<circle cx="355.2" cy="221.1" r="3.56" fill="#b81036" fill-opacity="0.85"/>
<circle cx="349.2" cy="228.3" r="4.45" fill="#d8304a" fill-opacity="0.55"/>
<circle cx="347.9" cy="226.9" r="4.45" fill="url(#gb)"/>
<path d="M348.30,232.61 A4.45,4.45 0 0 0 353.60,227.61 Z" fill="#c01034" fill-opacity="0.85"/>
<circle cx="374.7" cy="222.6" r="4.45" fill="#d8304a" fill-opacity="0.55"/>
<circle cx="374.9" cy="220.5" r="4.45" fill="url(#gb)"/>
<circle cx="374.8" cy="221.3" r="3.56" fill="#b81036" fill-opacity="0.85"/>
<circle cx="382.3" cy="225.9" r="4.45" fill="#d8304a" fill-opacity="0.55"/>
<circle cx="382.6" cy="226.9" r="4.45" fill="url(#gb)"/>
<circle cx="382.4" cy="226.0" r="3.56" fill="#b81036" fill-opacity="0.85"/>
<circle cx="244.8" cy="242.4" r="4.45" fill="#d8304a" fill-opacity="0.55"/>
<circle cx="246.7" cy="241.5" r="4.45" fill="url(#gb)"/>
<circle cx="245.9" cy="241.9" r="3.56" fill="#b81036" fill-opacity="0.85"/>
<circle cx="239.9" cy="245.9" r="4.45" fill="#d8304a" fill-opacity="0.55"/>
<circle cx="239.3" cy="247.9" r="4.45" fill="url(#gb)"/>
<circle cx="239.4" cy="247.4" r="3.56" fill="#b81036" fill-opacity="0.85"/>
<circle cx="267.0" cy="240.5" r="4.45" fill="#d8304a" fill-opacity="0.55"/>
<circle cx="266.2" cy="241.5" r="4.45" fill="url(#gb)"/>
<path d="M271.27,241.91 A4.45,4.45 0 0 0 265.04,236.57 Z" fill="#c01034" fill-opacity="0.85"/>
<circle cx="274.9" cy="247.4" r="4.45" fill="#d8304a" fill-opacity="0.55"/>
<circle cx="274.0" cy="247.9" r="4.45" fill="url(#gb)"/>
<path d="M278.21,250.41 A4.45,4.45 0 0 0 274.54,243.00 Z" fill="#c01034" fill-opacity="0.85"/>
<circle cx="301.1" cy="242.7" r="4.45" fill="#d8304a" fill-opacity="0.55"/>
<circle cx="301.0" cy="241.5" r="4.45" fill="url(#gb)"/>
<circle cx="301.0" cy="241.9" r="3.56" fill="#b81036" fill-opacity="0.85"/>
<circle cx="293.9" cy="249.0" r="4.45" fill="#d8304a" fill-opacity="0.55"/>
<circle cx="293.6" cy="247.9" r="4.45" fill="url(#gb)"/>
<path d="M291.06,252.36 A4.45,4.45 0 0 0 298.25,250.11 Z" fill="#c01034" fill-opacity="0.85"/>
<circle cx="320.3" cy="242.4" r="4.45" fill="#d8304a" fill-opacity="0.55"/>
<circle cx="320.6" cy="241.5" r="4.45" fill="url(#gb)"/>
<path d="M315.85,242.42 A4.45,4.45 0 0 0 324.21,244.56 Z" fill="#c01034" fill-opacity="0.85"/>
<circle cx="329.2" cy="248.0" r="4.45" fill="#d8304a" fill-opacity="0.55"/>
<circle cx="328.3" cy="247.9" r="4.45" fill="url(#gb)"/>
<path d="M331.00,252.01 A4.45,4.45 0 0 0 331.87,244.42 Z" fill="#c01034" fill-opacity="0.85"/>
<circle cx="353.8" cy="241.0" r="4.45" fill="#d8304a" fill-opacity="0.55"/>
<circle cx="355.3" cy="241.5" r="4.45" fill="url(#gb)"/>
<circle cx="354.2" cy="241.1" r="3.56" fill="#b81036" fill-opacity="0.85"/>
<circle cx="349.2" cy="248.9" r="4.45" fill="#d8304a" fill-opacity="0.6"/>
<circle cx="347.9" cy="247.9" r="4.45" fill="url(#gb)"/>
<circle cx="349.2" cy="248.9" r="4.45" fill="#d01838" fill-opacity="0.1"/>
<circle cx="373.3" cy="241.5" r="4.45" fill="#d8304a" fill-opacity="0.6"/>
<circle cx="374.9" cy="241.5" r="4.45" fill="url(#gb)"/>
<circle cx="373.3" cy="241.5" r="4.45" fill="#d01838" fill-opacity="0.1"/>
<circle cx="380.3" cy="247.8" r="4.45" fill="#d8304a" fill-opacity="0.6"/>
<circle cx="382.6" cy="247.9" r="4.45" fill="url(#gb)"/>
<circle cx="380.3" cy="247.8" r="4.45" fill="#d01838" fill-opacity="0.1"/>
<circle cx="245.6" cy="264.1" r="4.45" fill="#d8304a" fill-opacity="0.6"/>
<circle cx="246.7" cy="262.4" r="4.45" fill="url(#gb)"/>
<circle cx="245.6" cy="264.1" r="4.45" fill="#d01838" fill-opacity="0.1"/>
<circle cx="238.5" cy="267.9" r="4.45" fill="#d8304a" fill-opacity="0.55"/>
<circle cx="239.3" cy="268.8" r="4.45" fill="url(#gb)"/>
<path d="M241.74,264.87 A4.45,4.45 0 0 0 235.04,270.71 Z" fill="#c01034" fill-opacity="0.85"/>
<circle cx="267.5" cy="263.8" r="4.45" fill="#d8304a" fill-opacity="0.55"/>
<circle cx="266.2" cy="262.4" r="4.45" fill="url(#gb)"/>
<circle cx="266.7" cy="262.9" r="3.56" fill="#b81036" fill-opacity="0.85"/>
<circle cx="275.1" cy="270.6" r="4.45" fill="#d8304a" fill-opacity="0.55"/>
<circle cx="274.0" cy="268.8" r="4.45" fill="url(#gb)"/>
<circle cx="274.6" cy="269.8" r="3.56" fill="#b81036" fill-opacity="0.85"/>
<circle cx="300.5" cy="261.5" r="4.45" fill="#d8304a" fill-opacity="0.55"/>
<circle cx="301.0" cy="262.4" r="4.45" fill="url(#gb)"/>
<path d="M303.86,258.60 A4.45,4.45 0 0 0 296.22,262.77 Z" fill="#c01034" fill-opacity="0.85"/>
<circle cx="292.1" cy="269.2" r="4.45" fill="#d8304a" fill-opacity="0.55"/>
<circle cx="293.6" cy="268.8" r="4.45" fill="url(#gb)"/>
<circle cx="293.0" cy="269.0" r="3.56" fill="#b81036" fill-opacity="0.85"/>
<circle cx="322.3" cy="262.0" r="4.45" fill="#d8304a" fill-opacity="0.6"/>
<circle cx="320.6" cy="262.4" r="4.45" fill="url(#gb)"/>
<circle cx="322.3" cy="262.0" r="4.45" fill="#d01838" fill-opacity="0.1"/>
<circle cx="328.4" cy="270.3" r="4.45" fill="#d8304a" fill-opacity="0.6"/>
<circle cx="328.3" cy="268.8" r="4.45" fill="url(#gb)"/>
<circle cx="328.4" cy="270.3" r="4.45" fill="#d01838" fill-opacity="0.1"/>
<circle cx="354.4" cy="263.6" r="4.45" fill="#d8304a" fill-opacity="0.55"/>
<circle cx="355.3" cy="262.4" r="4.45" fill="url(#gb)"/>
<circle cx="354.8" cy="263.1" r="3.56" fill="#b81036" fill-opacity="0.85"/>
<circle cx="346.5" cy="268.8" r="4.45" fill="#d8304a" fill-opacity="0.55"/>
<circle cx="347.9" cy="268.8" r="4.45" fill="url(#gb)"/>
<path d="M346.56,264.37 A4.45,4.45 0 0 0 346.40,273.26 Z" fill="#c01034" fill-opacity="0.85"/>
<circle cx="374.7" cy="263.9" r="4.45" fill="#d8304a" fill-opacity="0.55"/>
<circle cx="374.9" cy="262.4" r="4.45" fill="url(#gb)"/>
<circle cx="374.8" cy="262.9" r="3.56" fill="#b81036" fill-opacity="0.85"/>
<circle cx="383.7" cy="269.0" r="4.45" fill="#d8304a" fill-opacity="0.55"/>
<circle cx="382.6" cy="268.8" r="4.45" fill="url(#gb)"/>
<path d="M384.95,273.27 A4.45,4.45 0 0 0 386.10,265.23 Z" fill="#c01034" fill-opacity="0.85"/>
<circle cx="244.8" cy="283.1" r="4.45" fill="#d8304a" fill-opacity="0.6"/>
<circle cx="246.7" cy="283.4" r="4.45" fill="url(#gb)"/>
<circle cx="244.8" cy="283.1" r="4.45" fill="#d01838" fill-opacity="0.1"/>
<circle cx="239.0" cy="288.3" r="4.45" fill="#d8304a" fill-opacity="0.6"/>
<circle cx="239.3" cy="289.8" r="4.45" fill="url(#gb)"/>
<circle cx="239.0" cy="288.3" r="4.45" fill="#d01838" fill-opacity="0.1"/>
<circle cx="265.7" cy="284.5" r="4.45" fill="#d8304a" fill-opacity="0.6"/>
<circle cx="266.2" cy="283.4" r="4.45" fill="url(#gb)"/>
<circle cx="265.7" cy="284.5" r="4.45" fill="#d01838" fill-opacity="0.1"/>
<circle cx="273.9" cy="288.8" r="4.45" fill="#d8304a" fill-opacity="0.6"/>
<circle cx="274.0" cy="289.8" r="4.45" fill="url(#gb)"/>
<circle cx="273.9" cy="288.8" r="4.45" fill="#d01838" fill-opacity="0.1"/>
<circle cx="302.0" cy="281.8" r="4.45" fill="#d8304a" fill-opacity="0.6"/>
<circle cx="301.0" cy="283.4" r="4.45" fill="url(#gb)"/>
<circle cx="302.0" cy="281.8" r="4.45" fill="#d01838" fill-opacity="0.1"/>
<circle cx="293.5" cy="288.6" r="4.45" fill="#d8304a" fill-opacity="0.6"/>
<circle cx="293.6" cy="289.8" r="4.45" fill="url(#gb)"/>
<circle cx="293.5" cy="288.6" r="4.45" fill="#d01838" fill-opacity="0.1"/>
<circle cx="318.8" cy="283.2" r="4.45" fill="#d8304a" fill-opacity="0.55"/>
<circle cx="320.6" cy="283.4" r="4.45" fill="url(#gb)"/>
<path d="M316.84,279.14 A4.45,4.45 0 0 0 315.74,286.42 Z" fill="#c01034" fill-opacity="0.85"/>
<circle cx="329.2" cy="288.2" r="4.45" fill="#d8304a" fill-opacity="0.55"/>
<circle cx="328.3" cy="289.8" r="4.45" fill="url(#gb)"/>
<path d="M333.66,288.08 A4.45,4.45 0 0 0 326.73,284.47 Z" fill="#c01034" fill-opacity="0.85"/>
<circle cx="355.0" cy="282.6" r="4.45" fill="#d8304a" fill-opacity="0.55"/>
<circle cx="355.3" cy="283.4" r="4.45" fill="url(#gb)"/>
<path d="M359.02,280.70 A4.45,4.45 0 0 0 350.71,283.79 Z" fill="#c01034" fill-opacity="0.85"/>
<circle cx="346.6" cy="291.4" r="4.45" fill="#d8304a" fill-opacity="0.55"/>
<circle cx="347.9" cy="289.8" r="4.45" fill="url(#gb)"/>
<circle cx="347.4" cy="290.5" r="3.56" fill="#b81036" fill-opacity="0.85"/>
<circle cx="373.5" cy="282.0" r="4.45" fill="#d8304a" fill-opacity="0.6"/>
<circle cx="374.9" cy="283.4" r="4.45" fill="url(#gb)"/>
<circle cx="373.5" cy="282.0" r="4.45" fill="#d01838" fill-opacity="0.1"/>
<circle cx="380.7" cy="290.0" r="4.45" fill="#d8304a" fill-opacity="0.55"/>
<circle cx="382.6" cy="289.8" r="4.45" fill="url(#gb)"/>
<circle cx="381.7" cy="289.9" r="3.56" fill="#b81036" fill-opacity="0.85"/>
<circle cx="245.1" cy="304.4" r="4.45" fill="#d8304a" fill-opacity="0.55"/>
<circle cx="246.7" cy="304.4" r="4.45" fill="url(#gb)"/>
<path d="M244.99,299.92 A4.45,4.45 0 0 0 244.82,308.81 Z" fill="#c01034" fill-opacity="0.85"/>
<circle cx="239.2" cy="309.9" r="4.45" fill="#d8304a" fill-opacity="0.55"/>
<circle cx="239.3" cy="310.8" r="4.45" fill="url(#gb)"/>
<path d="M243.52,308.73 A4.45,4.45 0 0 0 234.80,309.45 Z" fill="#c01034" fill-opacity="0.85"/>
<circle cx="266.0" cy="302.7" r="4.45" fill="#d8304a" fill-opacity="0.55"/>
<circle cx="266.2" cy="304.4" r="4.45" fill="url(#gb)"/>
<path d="M268.86,299.29 A4.45,4.45 0 0 0 262.41,300.13 Z" fill="#c01034" fill-opacity="0.85"/>
<circle cx="272.7" cy="310.9" r="4.45" fill="#d8304a" fill-opacity="0.55"/>
<circle cx="274.0" cy="310.8" r="4.45" fill="url(#gb)"/>
<path d="M270.40,307.03 A4.45,4.45 0 0 0 270.70,314.84 Z" fill="#c01034" fill-opacity="0.85"/>
<circle cx="301.2" cy="302.8" r="4.45" fill="#d8304a" fill-opacity="0.55"/>
<circle cx="301.0" cy="304.4" r="4.45" fill="url(#gb)"/>
<path d="M305.61,303.07 A4.45,4.45 0 0 0 296.77,302.12 Z" fill="#c01034" fill-opacity="0.85"/>
<circle cx="294.6" cy="312.2" r="4.45" fill="#d8304a" fill-opacity="0.55"/>
<circle cx="293.6" cy="310.8" r="4.45" fill="url(#gb)"/>
<path d="M291.71,315.52 A4.45,4.45 0 0 0 298.66,310.30 Z" fill="#c01034" fill-opacity="0.85"/>
<circle cx="319.6" cy="304.0" r="4.45" fill="#d8304a" fill-opacity="0.55"/>
<circle cx="320.6" cy="304.4" r="4.45" fill="url(#gb)"/>
<circle cx="320.0" cy="304.1" r="3.56" fill="#b81036" fill-opacity="0.85"/>
<circle cx="327.4" cy="309.1" r="4.45" fill="#d8304a" fill-opacity="0.6"/>
<circle cx="328.3" cy="310.8" r="4.45" fill="url(#gb)"/>
<circle cx="327.4" cy="309.1" r="4.45" fill="#d01838" fill-opacity="0.1"/>
<circle cx="355.0" cy="305.7" r="4.45" fill="#d8304a" fill-opacity="0.55"/>
<circle cx="355.3" cy="304.4" r="4.45" fill="url(#gb)"/>
<path d="M350.52,306.05 A4.45,4.45 0 0 0 358.65,308.19 Z" fill="#c01034" fill-opacity="0.85"/>
<circle cx="348.8" cy="311.7" r="4.45" fill="#d8304a" fill-opacity="0.6"/>
<circle cx="347.9" cy="310.8" r="4.45" fill="url(#gb)"/>
<circle cx="348.8" cy="311.7" r="4.45" fill="#d01838" fill-opacity="0.1"/>
<circle cx="375.9" cy="304.3" r="4.45" fill="#d8304a" fill-opacity="0.6"/>
<circle cx="374.9" cy="304.4" r="4.45" fill="url(#gb)"/>
<circle cx="375.9" cy="304.3" r="4.45" fill="#d01838" fill-opacity="0.1"/>
<circle cx="380.4" cy="311.4" r="4.45" fill="#d8304a" fill-opacity="0.6"/>
<circle cx="382.6" cy="310.8" r="4.45" fill="url(#gb)"/>
<circle cx="380.4" cy="311.4" r="4.45" fill="#d01838" fill-opacity="0.1"/>
<circle cx="452.0" cy="199.5" r="4.45" fill="#d8304a" fill-opacity="0.55"/>
<circle cx="453.0" cy="199.2" r="4.45" fill="url(#gb)"/>
<path d="M448.16,197.28 A4.45,4.45 0 0 0 450.24,203.62 Z" fill="#c01034" fill-opacity="0.85"/>
<circle cx="453.2" cy="206.7" r="4.45" fill="#d8304a" fill-opacity="0.55"/>
<circle cx="453.0" cy="205.8" r="4.45" fill="url(#gb)"/>
<path d="M449.62,209.34 A4.45,4.45 0 0 0 457.65,207.31 Z" fill="#c01034" fill-opacity="0.85"/>
<circle cx="478.2" cy="198.6" r="4.45" fill="#d8304a" fill-opacity="0.55"/>
<circle cx="476.3" cy="199.2" r="4.45" fill="url(#gb)"/>
<circle cx="477.1" cy="199.0" r="3.56" fill="#b81036" fill-opacity="0.85"/>
<circle cx="477.3" cy="204.9" r="4.45" fill="#d8304a" fill-opacity="0.6"/>
<circle cx="476.3" cy="205.8" r="4.45" fill="url(#gb)"/>
<circle cx="477.3" cy="204.9" r="4.45" fill="#d01838" fill-opacity="0.1"/>
<circle cx="500.3" cy="198.7" r="4.45" fill="#d8304a" fill-opacity="0.55"/>
<circle cx="499.6" cy="199.2" r="4.45" fill="url(#gb)"/>
<path d="M502.94,202.26 A4.45,4.45 0 0 0 497.61,195.13 Z" fill="#c01034" fill-opacity="0.85"/>
<circle cx="498.4" cy="205.9" r="4.45" fill="#d8304a" fill-opacity="0.55"/>
<circle cx="499.6" cy="205.8" r="4.45" fill="url(#gb)"/>
<path d="M497.77,201.46 A4.45,4.45 0 0 0 498.23,210.31 Z" fill="#c01034" fill-opacity="0.85"/>
<circle cx="521.9" cy="200.7" r="4.45" fill="#d8304a" fill-opacity="0.55"/>
<circle cx="522.9" cy="199.2" r="4.45" fill="url(#gb)"/>
<path d="M518.19,198.23 A4.45,4.45 0 0 0 525.59,203.18 Z" fill="#c01034" fill-opacity="0.85"/>
<circle cx="522.9" cy="204.6" r="4.45" fill="#d8304a" fill-opacity="0.6"/>
<circle cx="522.9" cy="205.8" r="4.45" fill="url(#gb)"/>
<circle cx="522.9" cy="204.6" r="4.45" fill="#d01838" fill-opacity="0.1"/>
<circle cx="548.2" cy="198.2" r="4.45" fill="#d8304a" fill-opacity="0.6"/>
<circle cx="546.2" cy="199.2" r="4.45" fill="url(#gb)"/>
<circle cx="548.2" cy="198.2" r="4.45" fill="#d01838" fill-opacity="0.1"/>
<circle cx="545.9" cy="207.0" r="4.45" fill="#d8304a" fill-opacity="0.55"/>
<circle cx="546.2" cy="205.8" r="4.45" fill="url(#gb)"/>
<path d="M542.03,209.26 A4.45,4.45 0 0 0 548.20,210.83 Z" fill="#c01034" fill-opacity="0.85"/>
<circle cx="568.4" cy="198.5" r="4.45" fill="#d8304a" fill-opacity="0.55"/>
<circle cx="569.5" cy="199.2" r="4.45" fill="url(#gb)"/>
<path d="M569.98,194.35 A4.45,4.45 0 0 0 565.34,201.75 Z" fill="#c01034" fill-opacity="0.85"/>
<circle cx="571.4" cy="206.4" r="4.45" fill="#d8304a" fill-opacity="0.55"/>
<circle cx="569.5" cy="205.8" r="4.45" fill="url(#gb)"/>
<circle cx="570.1" cy="206.0" r="3.56" fill="#b81036" fill-opacity="0.85"/>
<circle cx="448.2" cy="219.7" r="4.45" fill="#d8304a" fill-opacity="0.55"/>
<circle cx="447.2" cy="220.2" r="4.45" fill="url(#gb)"/>
<path d="M451.33,222.93 A4.45,4.45 0 0 0 448.06,215.29 Z" fill="#c01034" fill-opacity="0.85"/>
<circle cx="447.9" cy="228.6" r="4.45" fill="#d8304a" fill-opacity="0.55"/>
<circle cx="447.2" cy="226.8" r="4.45" fill="url(#gb)"/>
<path d="M445.69,232.44 A4.45,4.45 0 0 0 452.18,229.86 Z" fill="#c01034" fill-opacity="0.85"/>
<circle cx="471.2" cy="218.1" r="4.45" fill="#d8304a" fill-opacity="0.6"/>
<circle cx="470.3" cy="220.2" r="4.45" fill="url(#gb)"/>
<circle cx="471.2" cy="218.1" r="4.45" fill="#d01838" fill-opacity="0.1"/>
<circle cx="471.8" cy="226.2" r="4.45" fill="#d8304a" fill-opacity="0.55"/>
<circle cx="470.3" cy="226.8" r="4.45" fill="url(#gb)"/>
<path d="M473.61,230.26 A4.45,4.45 0 0 0 470.37,221.98 Z" fill="#c01034" fill-opacity="0.85"/>
<circle cx="493.2" cy="218.5" r="4.45" fill="#d8304a" fill-opacity="0.55"/>
<circle cx="493.4" cy="220.2" r="4.45" fill="url(#gb)"/>
<path d="M496.94,216.05 A4.45,4.45 0 0 0 489.04,216.93 Z" fill="#c01034" fill-opacity="0.85"/>
<circle cx="492.9" cy="228.8" r="4.45" fill="#d8304a" fill-opacity="0.55"/>
<circle cx="493.4" cy="226.8" r="4.45" fill="url(#gb)"/>
<circle cx="493.3" cy="227.3" r="3.56" fill="#b81036" fill-opacity="0.85"/>
<circle cx="515.4" cy="220.4" r="4.45" fill="#d8304a" fill-opacity="0.55"/>
<circle cx="516.5" cy="220.2" r="4.45" fill="url(#gb)"/>
<path d="M512.43,217.03 A4.45,4.45 0 0 0 513.76,224.53 Z" fill="#c01034" fill-opacity="0.85"/>
<circle cx="518.1" cy="226.5" r="4.45" fill="#d8304a" fill-opacity="0.55"/>
<circle cx="516.5" cy="226.8" r="4.45" fill="url(#gb)"/>
<path d="M519.64,230.71 A4.45,4.45 0 0 0 518.35,222.10 Z" fill="#c01034" fill-opacity="0.85"/>
<circle cx="538.7" cy="219.8" r="4.45" fill="#d8304a" fill-opacity="0.55"/>
<circle cx="539.6" cy="220.2" r="4.45" fill="url(#gb)"/>
<path d="M539.75,215.51 A4.45,4.45 0 0 0 536.63,223.79 Z" fill="#c01034" fill-opacity="0.85"/>
<circle cx="540.0" cy="228.4" r="4.45" fill="#d8304a" fill-opacity="0.6"/>
<circle cx="539.6" cy="226.8" r="4.45" fill="url(#gb)"/>
<circle cx="540.0" cy="228.4" r="4.45" fill="#d01838" fill-opacity="0.1"/>
<circle cx="563.1" cy="222.5" r="4.45" fill="#d8304a" fill-opacity="0.6"/>
<circle cx="562.7" cy="220.2" r="4.45" fill="url(#gb)"/>
<circle cx="563.1" cy="222.5" r="4.45" fill="#d01838" fill-opacity="0.1"/>
<circle cx="561.5" cy="227.2" r="4.45" fill="#d8304a" fill-opacity="0.55"/>
<circle cx="562.7" cy="226.8" r="4.45" fill="url(#gb)"/>
<circle cx="562.3" cy="226.9" r="3.56" fill="#b81036" fill-opacity="0.85"/>
<circle cx="452.3" cy="242.2" r="4.45" fill="#d8304a" fill-opacity="0.55"/>
<circle cx="453.0" cy="241.2" r="4.45" fill="url(#gb)"/>
<circle cx="452.7" cy="241.7" r="3.56" fill="#b81036" fill-opacity="0.85"/>
<circle cx="451.1" cy="246.9" r="4.45" fill="#d8304a" fill-opacity="0.6"/>
<circle cx="453.0" cy="247.8" r="4.45" fill="url(#gb)"/>
<circle cx="451.1" cy="246.9" r="4.45" fill="#d01838" fill-opacity="0.1"/>
<circle cx="475.1" cy="241.9" r="4.45" fill="#d8304a" fill-opacity="0.55"/>
<circle cx="476.3" cy="241.2" r="4.45" fill="url(#gb)"/>
<path d="M471.84,238.85 A4.45,4.45 0 0 0 476.31,246.18 Z" fill="#c01034" fill-opacity="0.85"/>
<circle cx="475.6" cy="248.9" r="4.45" fill="#d8304a" fill-opacity="0.55"/>
<circle cx="476.3" cy="247.8" r="4.45" fill="url(#gb)"/>
<circle cx="475.7" cy="248.8" r="3.56" fill="#b81036" fill-opacity="0.85"/>
<circle cx="500.7" cy="242.3" r="4.45" fill="#d8304a" fill-opacity="0.55"/>
<circle cx="499.6" cy="241.2" r="4.45" fill="url(#gb)"/>
<path d="M500.06,246.67 A4.45,4.45 0 0 0 505.11,241.68 Z" fill="#c01034" fill-opacity="0.85"/>
<circle cx="499.8" cy="248.8" r="4.45" fill="#d8304a" fill-opacity="0.55"/>
<circle cx="499.6" cy="247.8" r="4.45" fill="url(#gb)"/>
<path d="M495.92,250.96 A4.45,4.45 0 0 0 504.27,249.14 Z" fill="#c01034" fill-opacity="0.85"/>
<circle cx="520.8" cy="241.9" r="4.45" fill="#d8304a" fill-opacity="0.6"/>
<circle cx="522.9" cy="241.2" r="4.45" fill="url(#gb)"/>
<circle cx="520.8" cy="241.9" r="4.45" fill="#d01838" fill-opacity="0.1"/>
<circle cx="523.6" cy="247.0" r="4.45" fill="#d8304a" fill-opacity="0.55"/>
<circle cx="522.9" cy="247.8" r="4.45" fill="url(#gb)"/>
<circle cx="523.6" cy="247.1" r="3.56" fill="#b81036" fill-opacity="0.85"/>
<circle cx="547.4" cy="240.2" r="4.45" fill="#d8304a" fill-opacity="0.55"/>
<circle cx="546.2" cy="241.2" r="4.45" fill="url(#gb)"/>
<path d="M550.11,243.77 A4.45,4.45 0 0 0 544.68,236.71 Z" fill="#c01034" fill-opacity="0.85"/>
<circle cx="544.5" cy="249.1" r="4.45" fill="#d8304a" fill-opacity="0.6"/>
<circle cx="546.2" cy="247.8" r="4.45" fill="url(#gb)"/>
<circle cx="544.5" cy="249.1" r="4.45" fill="#d01838" fill-opacity="0.1"/>
<circle cx="570.3" cy="240.1" r="4.45" fill="#d8304a" fill-opacity="0.6"/>
<circle cx="569.5" cy="241.2" r="4.45" fill="url(#gb)"/>
<circle cx="570.3" cy="240.1" r="4.45" fill="#d01838" fill-opacity="0.1"/>
<circle cx="570.8" cy="248.8" r="4.45" fill="#d8304a" fill-opacity="0.55"/>
<circle cx="569.5" cy="247.8" r="4.45" fill="url(#gb)"/>
<circle cx="570.2" cy="248.4" r="3.56" fill="#b81036" fill-opacity="0.85"/>
<circle cx="449.0" cy="261.5" r="4.45" fill="#d8304a" fill-opacity="0.6"/>
<circle cx="447.2" cy="262.1" r="4.45" fill="url(#gb)"/>
<circle cx="449.0" cy="261.5" r="4.45" fill="#d01838" fill-opacity="0.1"/>
<circle cx="447.3" cy="267.3" r="4.45" fill="#d8304a" fill-opacity="0.55"/>
<circle cx="447.2" cy="268.7" r="4.45" fill="url(#gb)"/>
<path d="M451.78,267.57 A4.45,4.45 0 0 0 442.92,266.75 Z" fill="#c01034" fill-opacity="0.85"/>
<circle cx="470.7" cy="260.3" r="4.45" fill="#d8304a" fill-opacity="0.55"/>
<circle cx="470.3" cy="262.1" r="4.45" fill="url(#gb)"/>
<path d="M474.98,259.11 A4.45,4.45 0 0 0 467.20,257.51 Z" fill="#c01034" fill-opacity="0.85"/>
<circle cx="469.9" cy="270.0" r="4.45" fill="#d8304a" fill-opacity="0.55"/>
<circle cx="470.3" cy="268.7" r="4.45" fill="url(#gb)"/>
<circle cx="470.0" cy="269.6" r="3.56" fill="#b81036" fill-opacity="0.85"/>
<circle cx="493.1" cy="261.1" r="4.45" fill="#d8304a" fill-opacity="0.55"/>
<circle cx="493.4" cy="262.1" r="4.45" fill="url(#gb)"/>
<circle cx="493.1" cy="261.4" r="3.56" fill="#b81036" fill-opacity="0.85"/>
<circle cx="492.5" cy="268.2" r="4.45" fill="#d8304a" fill-opacity="0.55"/>
<circle cx="493.4" cy="268.7" r="4.45" fill="url(#gb)"/>
<path d="M492.86,263.78 A4.45,4.45 0 0 0 488.84,270.78 Z" fill="#c01034" fill-opacity="0.85"/>
<circle cx="517.8" cy="262.2" r="4.45" fill="#d8304a" fill-opacity="0.55"/>
<circle cx="516.5" cy="262.1" r="4.45" fill="url(#gb)"/>
<path d="M520.61,265.72 A4.45,4.45 0 0 0 521.05,259.13 Z" fill="#c01034" fill-opacity="0.85"/>
<circle cx="515.5" cy="267.4" r="4.45" fill="#d8304a" fill-opacity="0.6"/>
<circle cx="516.5" cy="268.7" r="4.45" fill="url(#gb)"/>
<circle cx="515.5" cy="267.4" r="4.45" fill="#d01838" fill-opacity="0.1"/>
<circle cx="539.8" cy="264.1" r="4.45" fill="#d8304a" fill-opacity="0.55"/>
<circle cx="539.6" cy="262.1" r="4.45" fill="url(#gb)"/>
<path d="M536.14,266.64 A4.45,4.45 0 0 0 543.85,265.90 Z" fill="#c01034" fill-opacity="0.85"/>
<circle cx="539.0" cy="270.2" r="4.45" fill="#d8304a" fill-opacity="0.55"/>
<circle cx="539.6" cy="268.7" r="4.45" fill="url(#gb)"/>
<circle cx="539.3" cy="269.6" r="3.56" fill="#b81036" fill-opacity="0.85"/>
<circle cx="561.3" cy="262.9" r="4.45" fill="#d8304a" fill-opacity="0.55"/>
<circle cx="562.7" cy="262.1" r="4.45" fill="url(#gb)"/>
<path d="M557.14,261.33 A4.45,4.45 0 0 0 560.40,267.27 Z" fill="#c01034" fill-opacity="0.85"/>
<circle cx="562.9" cy="270.1" r="4.45" fill="#d8304a" fill-opacity="0.55"/>
<circle cx="562.7" cy="268.7" r="4.45" fill="url(#gb)"/>
<circle cx="562.8" cy="269.5" r="3.56" fill="#b81036" fill-opacity="0.85"/>
<circle cx="452.2" cy="281.3" r="4.45" fill="#d8304a" fill-opacity="0.55"/>
<circle cx="453.0" cy="283.1" r="4.45" fill="url(#gb)"/>
<circle cx="452.6" cy="282.2" r="3.56" fill="#b81036" fill-opacity="0.85"/>
<circle cx="451.0" cy="289.7" r="4.45" fill="#d8304a" fill-opacity="0.55"/>
<circle cx="453.0" cy="289.7" r="4.45" fill="url(#gb)"/>
<path d="M450.20,285.29 A4.45,4.45 0 0 0 449.93,293.97 Z" fill="#c01034" fill-opacity="0.85"/>
<circle cx="476.8" cy="282.2" r="4.45" fill="#d8304a" fill-opacity="0.55"/>
<circle cx="476.3" cy="283.1" r="4.45" fill="url(#gb)"/>
<path d="M481.17,281.62 A4.45,4.45 0 0 0 474.35,278.41 Z" fill="#c01034" fill-opacity="0.85"/>
<circle cx="475.8" cy="291.3" r="4.45" fill="#d8304a" fill-opacity="0.6"/>
<circle cx="476.3" cy="289.7" r="4.45" fill="url(#gb)"/>
<circle cx="475.8" cy="291.3" r="4.45" fill="#d01838" fill-opacity="0.1"/>
<circle cx="500.1" cy="284.3" r="4.45" fill="#d8304a" fill-opacity="0.55"/>
<circle cx="499.6" cy="283.1" r="4.45" fill="url(#gb)"/>
<path d="M497.26,287.75 A4.45,4.45 0 0 0 504.53,284.72 Z" fill="#c01034" fill-opacity="0.85"/>
<circle cx="501.0" cy="289.3" r="4.45" fill="#d8304a" fill-opacity="0.55"/>
<circle cx="499.6" cy="289.7" r="4.45" fill="url(#gb)"/>
<circle cx="500.1" cy="289.5" r="3.56" fill="#b81036" fill-opacity="0.85"/>
<circle cx="523.9" cy="282.9" r="4.45" fill="#d8304a" fill-opacity="0.55"/>
<circle cx="522.9" cy="283.1" r="4.45" fill="url(#gb)"/>
<circle cx="523.3" cy="283.0" r="3.56" fill="#b81036" fill-opacity="0.85"/>
<circle cx="521.1" cy="291.1" r="4.45" fill="#d8304a" fill-opacity="0.6"/>
<circle cx="522.9" cy="289.7" r="4.45" fill="url(#gb)"/>
<circle cx="521.1" cy="291.1" r="4.45" fill="#d01838" fill-opacity="0.1"/>
<circle cx="546.0" cy="280.8" r="4.45" fill="#d8304a" fill-opacity="0.6"/>
<circle cx="546.2" cy="283.1" r="4.45" fill="url(#gb)"/>
<circle cx="546.0" cy="280.8" r="4.45" fill="#d01838" fill-opacity="0.1"/>
<circle cx="545.2" cy="291.6" r="4.45" fill="#d8304a" fill-opacity="0.55"/>
<circle cx="546.2" cy="289.7" r="4.45" fill="url(#gb)"/>
<circle cx="545.7" cy="290.6" r="3.56" fill="#b81036" fill-opacity="0.85"/>
<circle cx="571.0" cy="283.4" r="4.45" fill="#d8304a" fill-opacity="0.6"/>
<circle cx="569.5" cy="283.1" r="4.45" fill="url(#gb)"/>
<circle cx="571.0" cy="283.4" r="4.45" fill="#d01838" fill-opacity="0.1"/>
<circle cx="568.8" cy="290.4" r="4.45" fill="#d8304a" fill-opacity="0.55"/>
<circle cx="569.5" cy="289.7" r="4.45" fill="url(#gb)"/>
<path d="M565.62,287.32 A4.45,4.45 0 0 0 571.96,293.57 Z" fill="#c01034" fill-opacity="0.85"/>
<circle cx="446.8" cy="306.0" r="4.45" fill="#d8304a" fill-opacity="0.55"/>
<circle cx="447.2" cy="304.1" r="4.45" fill="url(#gb)"/>
<path d="M442.41,305.57 A4.45,4.45 0 0 0 451.12,307.22 Z" fill="#c01034" fill-opacity="0.85"/>
<circle cx="448.4" cy="310.4" r="4.45" fill="#d8304a" fill-opacity="0.55"/>
<circle cx="447.2" cy="310.7" r="4.45" fill="url(#gb)"/>
<path d="M451.70,313.41 A4.45,4.45 0 0 0 450.08,306.31 Z" fill="#c01034" fill-opacity="0.85"/>
<circle cx="470.7" cy="303.3" r="4.45" fill="#d8304a" fill-opacity="0.55"/>
<circle cx="470.3" cy="304.1" r="4.45" fill="url(#gb)"/>
<path d="M475.10,303.84 A4.45,4.45 0 0 0 467.54,300.17 Z" fill="#c01034" fill-opacity="0.85"/>
<circle cx="469.4" cy="311.6" r="4.45" fill="#d8304a" fill-opacity="0.6"/>
<circle cx="470.3" cy="310.7" r="4.45" fill="url(#gb)"/>
<circle cx="469.4" cy="311.6" r="4.45" fill="#d01838" fill-opacity="0.1"/>
<circle cx="492.7" cy="304.9" r="4.45" fill="#d8304a" fill-opacity="0.6"/>
<circle cx="493.4" cy="304.1" r="4.45" fill="url(#gb)"/>
<circle cx="492.7" cy="304.9" r="4.45" fill="#d01838" fill-opacity="0.1"/>
<circle cx="491.6" cy="311.8" r="4.45" fill="#d8304a" fill-opacity="0.6"/>
<circle cx="493.4" cy="310.7" r="4.45" fill="url(#gb)"/>
<circle cx="491.6" cy="311.8" r="4.45" fill="#d01838" fill-opacity="0.1"/>
<circle cx="517.5" cy="304.4" r="4.45" fill="#d8304a" fill-opacity="0.55"/>
<circle cx="516.5" cy="304.1" r="4.45" fill="url(#gb)"/>
<circle cx="517.6" cy="304.4" r="3.56" fill="#b81036" fill-opacity="0.85"/>
<circle cx="516.4" cy="313.0" r="4.45" fill="#d8304a" fill-opacity="0.6"/>
<circle cx="516.5" cy="310.7" r="4.45" fill="url(#gb)"/>
<circle cx="516.4" cy="313.0" r="4.45" fill="#d01838" fill-opacity="0.1"/>
<circle cx="538.6" cy="305.8" r="4.45" fill="#d8304a" fill-opacity="0.55"/>
<circle cx="539.6" cy="304.1" r="4.45" fill="url(#gb)"/>
<path d="M534.14,305.25 A4.45,4.45 0 0 0 540.95,309.51 Z" fill="#c01034" fill-opacity="0.85"/>
<circle cx="539.5" cy="312.1" r="4.45" fill="#d8304a" fill-opacity="0.6"/>
<circle cx="539.6" cy="310.7" r="4.45" fill="url(#gb)"/>
<circle cx="539.5" cy="312.1" r="4.45" fill="#d01838" fill-opacity="0.1"/>
<circle cx="562.4" cy="306.0" r="4.45" fill="#d8304a" fill-opacity="0.55"/>
<circle cx="562.7" cy="304.1" r="4.45" fill="url(#gb)"/>
<circle cx="562.5" cy="305.2" r="3.56" fill="#b81036" fill-opacity="0.85"/>
<circle cx="562.0" cy="309.9" r="4.45" fill="#d8304a" fill-opacity="0.6"/>
<circle cx="562.7" cy="310.7" r="4.45" fill="url(#gb)"/>
<circle cx="562.0" cy="309.9" r="4.45" fill="#d01838" fill-opacity="0.1"/></g>
<line x1="36.90" y1="245.34" x2="36.90" y2="266.96" stroke="#000" stroke-width="1.5"/>
<path d="M36.90,270.80 L34.20,266.00 L39.60,266.00 z" fill="#000"/>
<path d="M36.90,241.50 L34.20,246.30 L39.60,246.30 z" fill="#000"/>
<line x1="80.54" y1="249.50" x2="98.86" y2="249.50" stroke="#2a942a" stroke-width="1.4"/>
<path d="M101.90,249.50 L98.10,251.80 L98.10,247.20 z" fill="#2a942a"/>
<path d="M77.50,249.50 L81.30,251.80 L81.30,247.20 z" fill="#2a942a"/>
<line x1="101.70" y1="252.44" x2="101.70" y2="261.56" stroke="#2a942a" stroke-width="1.4"/>
<path d="M101.70,264.60 L99.40,260.80 L104.00,260.80 z" fill="#2a942a"/>
<path d="M101.70,249.40 L99.40,253.20 L104.00,253.20 z" fill="#2a942a"/>
<line x1="41.30" y1="290.73" x2="45.90" y2="294.17" stroke="#cc22d4" stroke-width="1.4"/>
<path d="M48.20,295.90 L44.00,295.50 L46.64,291.98 z" fill="#cc22d4"/>
<path d="M39.00,289.00 L40.56,292.92 L43.20,289.40 z" fill="#cc22d4"/>

<rect x="82.2" y="252.2" width="15.2" height="10.6" fill="#fff"/>


<polyline points="18.4,299.7 18.4,329.4 48.6,329.4" fill="none" stroke="#000" stroke-width="1.5"/>
<path d="M15.299999999999999,301.5 L18.4,296.7 L21.5,301.5 z" fill="#000"/>
<path d="M46.800000000000004,326.29999999999995 L51.6,329.4 L46.800000000000004,332.5 z" fill="#000"/>


<polyline points="216.8,299.9 216.8,329.4 246.8,329.4" fill="none" stroke="#000" stroke-width="1.5"/>
<path d="M213.70000000000002,301.7 L216.8,296.9 L219.9,301.7 z" fill="#000"/>
<path d="M245.0,326.29999999999995 L249.8,329.4 L245.0,332.5 z" fill="#000"/>


<polyline points="426.6,299.8 426.6,329.4 456.6,329.4" fill="none" stroke="#000" stroke-width="1.5"/>
<path d="M423.5,301.6 L426.6,296.8 L429.70000000000005,301.6 z" fill="#000"/>
<path d="M454.8,326.29999999999995 L459.6,329.4 L454.8,332.5 z" fill="#000"/>


<circle cx="612.3" cy="229.6" r="11.4" fill="url(#lgr)"/>
<circle cx="612.3" cy="272.7" r="11.4" fill="url(#lgb)"/>
</g>
<text transform="translate(31.50,159.40) scale(1,1.2)" font-size="7.6" text-anchor="middle" fill="#000" stroke="#000" stroke-width="0.08" >2</text>
<text transform="translate(65.80,159.40) scale(1,1.2)" font-size="7.6" text-anchor="middle" fill="#000" stroke="#000" stroke-width="0.08" >4</text>
<text transform="translate(100.10,159.40) scale(1,1.2)" font-size="7.6" text-anchor="middle" fill="#000" stroke="#000" stroke-width="0.08" >6</text>
<text transform="translate(134.40,159.40) scale(1,1.2)" font-size="7.6" text-anchor="middle" fill="#000" stroke="#000" stroke-width="0.08" >8</text>
<text transform="translate(168.70,159.40) scale(1,1.2)" font-size="7.6" text-anchor="middle" fill="#000" stroke="#000" stroke-width="0.08" >10</text>
<text transform="translate(203.00,159.40) scale(1,1.2)" font-size="7.6" text-anchor="middle" fill="#000" stroke="#000" stroke-width="0.08" >12</text>
<text transform="translate(27.10,146.46) scale(1,1.2)" font-size="7.6" text-anchor="end" fill="#000" stroke="#000" stroke-width="0.08" >0.0</text>
<text transform="translate(27.10,126.19) scale(1,1.2)" font-size="7.6" text-anchor="end" fill="#000" stroke="#000" stroke-width="0.08" >0.5</text>
<text transform="translate(27.10,105.91) scale(1,1.2)" font-size="7.6" text-anchor="end" fill="#000" stroke="#000" stroke-width="0.08" >1.0</text>
<text transform="translate(27.10,85.64) scale(1,1.2)" font-size="7.6" text-anchor="end" fill="#000" stroke="#000" stroke-width="0.08" >1.5</text>
<text transform="translate(27.10,65.36) scale(1,1.2)" font-size="7.6" text-anchor="end" fill="#000" stroke="#000" stroke-width="0.08" >2.0</text>
<text transform="translate(27.10,45.09) scale(1,1.2)" font-size="7.6" text-anchor="end" fill="#000" stroke="#000" stroke-width="0.08" >2.5</text>
<text transform="translate(27.10,24.81) scale(1,1.2)" font-size="7.6" text-anchor="end" fill="#000" stroke="#000" stroke-width="0.08" >3.0</text>
<text transform="translate(61.40,27.39) scale(1,1.2)" font-size="7.9" text-anchor="start" fill="#000" stroke="#000" stroke-width="0.08" >GNN</text>
<text transform="translate(61.40,39.29) scale(1,1.2)" font-size="7.9" text-anchor="start" fill="#000" stroke="#000" stroke-width="0.08" >Atom</text>
<text transform="translate(54.30,65.90) scale(1,1.1)" font-size="9.7" text-anchor="start" fill="#d030dc" stroke="#d030dc" stroke-width="0.1" >P1</text>
<text transform="translate(94.40,49.40) scale(1,1.1)" font-size="9.8" text-anchor="start" fill="#2e962e" stroke="#2e962e" stroke-width="0.1" >P2</text>
<text transform="translate(142.50,88.60) scale(1,1.05)" font-size="10" text-anchor="start" fill="#000" stroke="#000" stroke-width="0.04" >P3</text>
<text transform="translate(11.3,92.7) rotate(-90)" font-size="10.5" fill="#000"><tspan font-style="italic">g</tspan><tspan font-size="7" dy="2.6">r, mol</tspan></text>
<text x="122.2" y="171.3" font-size="10.3" text-anchor="middle" stroke="#000" stroke-width="0.02"><tspan font-style="italic">r</tspan> (Å)</text>
<text transform="translate(262.80,159.20) scale(1,1.2)" font-size="7.6" text-anchor="middle" fill="#000" stroke="#000" stroke-width="0.08" >1.5</text>
<text transform="translate(293.00,159.20) scale(1,1.2)" font-size="7.6" text-anchor="middle" fill="#000" stroke="#000" stroke-width="0.08" >2.0</text>
<text transform="translate(323.20,159.20) scale(1,1.2)" font-size="7.6" text-anchor="middle" fill="#000" stroke="#000" stroke-width="0.08" >2.5</text>
<text transform="translate(353.40,159.20) scale(1,1.2)" font-size="7.6" text-anchor="middle" fill="#000" stroke="#000" stroke-width="0.08" >3.0</text>
<text transform="translate(383.60,159.20) scale(1,1.2)" font-size="7.6" text-anchor="middle" fill="#000" stroke="#000" stroke-width="0.08" >3.5</text>
<text transform="translate(413.80,159.20) scale(1,1.2)" font-size="7.6" text-anchor="middle" fill="#000" stroke="#000" stroke-width="0.08" >4.0</text>
<text transform="translate(444.00,159.20) scale(1,1.2)" font-size="7.6" text-anchor="middle" fill="#000" stroke="#000" stroke-width="0.08" >4.5</text>
<text transform="translate(258.70,146.36) scale(1,1.2)" font-size="7.6" text-anchor="end" fill="#000" stroke="#000" stroke-width="0.08" >0</text>
<text transform="translate(258.70,125.76) scale(1,1.2)" font-size="7.6" text-anchor="end" fill="#000" stroke="#000" stroke-width="0.08" >250</text>
<text transform="translate(258.70,105.16) scale(1,1.2)" font-size="7.6" text-anchor="end" fill="#000" stroke="#000" stroke-width="0.08" >500</text>
<text transform="translate(258.70,84.56) scale(1,1.2)" font-size="7.6" text-anchor="end" fill="#000" stroke="#000" stroke-width="0.08" >750</text>
<text transform="translate(258.70,63.96) scale(1,1.2)" font-size="7.6" text-anchor="end" fill="#000" stroke="#000" stroke-width="0.08" >1000</text>
<text transform="translate(258.70,43.36) scale(1,1.2)" font-size="7.6" text-anchor="end" fill="#000" stroke="#000" stroke-width="0.08" >1250</text>
<text transform="translate(258.70,22.76) scale(1,1.2)" font-size="7.6" text-anchor="end" fill="#000" stroke="#000" stroke-width="0.08" >1500</text>
<text transform="translate(418.60,27.49) scale(1,1.2)" font-size="7.9" text-anchor="start" fill="#000" stroke="#000" stroke-width="0.08" >GNN</text>
<text transform="translate(418.60,39.19) scale(1,1.2)" font-size="7.9" text-anchor="start" fill="#000" stroke="#000" stroke-width="0.08" >Atom</text>
<text transform="translate(237.6,82.55) rotate(-90)" font-size="10.5" text-anchor="middle" stroke="#000" stroke-width="0.03">Count</text>
<text x="354.1" y="171.2" font-size="10.3" text-anchor="middle" stroke="#000" stroke-width="0.02"><tspan font-style="italic">d</tspan> (Å)</text>
<text transform="translate(503.60,159.20) scale(1,1.2)" font-size="7.6" text-anchor="middle" fill="#000" stroke="#000" stroke-width="0.08" >60</text>
<text transform="translate(532.70,159.20) scale(1,1.2)" font-size="7.6" text-anchor="middle" fill="#000" stroke="#000" stroke-width="0.08" >80</text>
<text transform="translate(561.80,159.20) scale(1,1.2)" font-size="7.6" text-anchor="middle" fill="#000" stroke="#000" stroke-width="0.08" >100</text>
<text transform="translate(590.90,159.20) scale(1,1.2)" font-size="7.6" text-anchor="middle" fill="#000" stroke="#000" stroke-width="0.08" >120</text>
<text transform="translate(620.00,159.20) scale(1,1.2)" font-size="7.6" text-anchor="middle" fill="#000" stroke="#000" stroke-width="0.08" >140</text>
<text transform="translate(649.10,159.20) scale(1,1.2)" font-size="7.6" text-anchor="middle" fill="#000" stroke="#000" stroke-width="0.08" >160</text>
<text transform="translate(678.20,159.20) scale(1,1.2)" font-size="7.6" text-anchor="middle" fill="#000" stroke="#000" stroke-width="0.08" >180</text>
<text transform="translate(492.60,146.46) scale(1,1.2)" font-size="7.6" text-anchor="end" fill="#000" stroke="#000" stroke-width="0.08" >0</text>
<text transform="translate(492.60,129.28) scale(1,1.2)" font-size="7.6" text-anchor="end" fill="#000" stroke="#000" stroke-width="0.08" >200</text>
<text transform="translate(492.60,112.10) scale(1,1.2)" font-size="7.6" text-anchor="end" fill="#000" stroke="#000" stroke-width="0.08" >400</text>
<text transform="translate(492.60,94.92) scale(1,1.2)" font-size="7.6" text-anchor="end" fill="#000" stroke="#000" stroke-width="0.08" >600</text>
<text transform="translate(492.60,77.74) scale(1,1.2)" font-size="7.6" text-anchor="end" fill="#000" stroke="#000" stroke-width="0.08" >800</text>
<text transform="translate(492.60,60.56) scale(1,1.2)" font-size="7.6" text-anchor="end" fill="#000" stroke="#000" stroke-width="0.08" >1000</text>
<text transform="translate(492.60,43.38) scale(1,1.2)" font-size="7.6" text-anchor="end" fill="#000" stroke="#000" stroke-width="0.08" >1200</text>
<text transform="translate(492.60,26.20) scale(1,1.2)" font-size="7.6" text-anchor="end" fill="#000" stroke="#000" stroke-width="0.08" >1400</text>
<text transform="translate(652.10,27.99) scale(1,1.2)" font-size="7.9" text-anchor="start" fill="#000" stroke="#000" stroke-width="0.08" >GNN</text>
<text transform="translate(652.10,39.59) scale(1,1.2)" font-size="7.9" text-anchor="start" fill="#000" stroke="#000" stroke-width="0.08" >Atom</text>
<text transform="translate(471.6,82.55) rotate(-90)" font-size="10.5" text-anchor="middle" stroke="#000" stroke-width="0.03">Count</text>
<text x="587.6" y="171.2" font-size="10.3" text-anchor="middle" stroke="#000" stroke-width="0.02"><tspan font-style="italic">θ</tspan> (°)</text>
<text transform="translate(21.40,257.60) scale(1,1.02)" font-size="9.8" text-anchor="start" fill="#000" stroke="#000" stroke-width="0.04" >P3</text>
<text transform="translate(83.60,261.50) scale(1,1.08)" font-size="9.9" text-anchor="start" fill="#2e962e" stroke="#2e962e" stroke-width="0.1" >P2</text>
<text transform="translate(27.90,304.80) scale(1,1.08)" font-size="9.9" text-anchor="start" fill="#d030dc" stroke="#d030dc" stroke-width="0.1" >P1</text>
<text x="17.30" y="292.30" font-size="10" text-anchor="start" fill="#000" stroke="#000" stroke-width="0.1" font-style="italic">y</text>
<text x="54.20" y="332.60" font-size="10" text-anchor="start" fill="#000" stroke="#000" stroke-width="0.1" font-style="italic">x</text>
<text x="214.40" y="294.50" font-size="10" text-anchor="start" fill="#000" stroke="#000" stroke-width="0.1" font-style="italic">z</text>
<text x="252.80" y="332.30" font-size="10" text-anchor="start" fill="#000" stroke="#000" stroke-width="0.1" font-style="italic">x</text>
<text x="424.50" y="292.60" font-size="10" text-anchor="start" fill="#000" stroke="#000" stroke-width="0.1" font-style="italic">z</text>
<text x="464.20" y="331.60" font-size="10" text-anchor="start" fill="#000" stroke="#000" stroke-width="0.1" font-style="italic">y</text>
<text transform="translate(-0.2,18.6) scale(0.9,1)" font-size="25" stroke="#000" stroke-width="0.25">a</text>
<text x="220.50" y="17.70" font-size="25" text-anchor="start" fill="#000" stroke="#000" stroke-width="0.25" >b</text>
<text x="452.70" y="19.20" font-size="25.3" text-anchor="start" fill="#000" stroke="#000" stroke-width="0.25" >c</text>
<text x="-0.50" y="193.20" font-size="25.3" text-anchor="start" fill="#000" stroke="#000" stroke-width="0.25" >d</text>
<text x="638.40" y="234.40" font-size="15" text-anchor="start" fill="#000" stroke="#000" stroke-width="0.25" >CG</text>
<text x="638.20" y="276.40" font-size="14.8" text-anchor="start" fill="#000" stroke="#000" stroke-width="0.25" >Atom</text>
</svg></div>
</body></html>
